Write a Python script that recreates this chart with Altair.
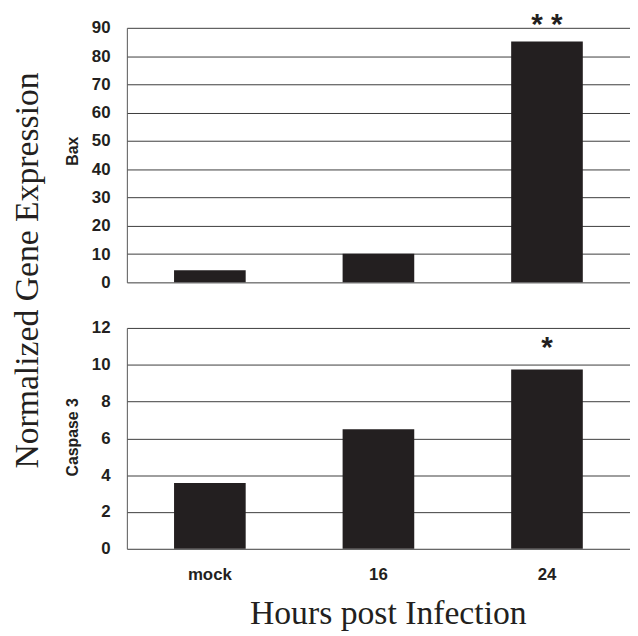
import altair as alt
import pandas as pd

hours = ["mock", "16", "24"]
bax = [4.3, 10.1, 85.2]
caspase3 = [3.57, 6.5, 9.74]
bax_sig = ["", "", "* *"]
casp_sig = ["", "", "*"]
bax_ticks = [0, 10, 20, 30, 40, 50, 60, 70, 80, 90]
casp_ticks = [0, 2, 4, 6, 8, 10, 12]
y_title = "Normalized Gene Expression"
x_title = "Hours post Infection"

INK = "#231f20"
GRID = "#3c3c3c"
SANS = "Liberation Sans"
SERIF = "Liberation Serif"

W = 508          # plot width
H = 526          # total plot height (both panels)
TOP_H = 257      # Bax panel height
BOT_Y0 = 303     # top of the Caspase 3 panel

df_bax = pd.DataFrame({"hours": hours, "bax": bax, "sig": bax_sig})
df_casp = pd.DataFrame({"hours": hours, "casp": caspase3, "sig": casp_sig})
df_title = pd.DataFrame({"t": [y_title]})

x_enc = alt.X(
    "hours:N", sort=hours,
    scale=alt.Scale(paddingInner=0.575, paddingOuter=0.28),
    axis=alt.Axis(title=x_title, ticks=False, domain=False, grid=False,
                  labelAngle=0, labelFont=SANS, labelFontWeight="bold",
                  labelFontSize=17, labelColor=INK, labelPadding=18,
                  titleFont=SERIF, titleFontSize=34, titleFontWeight="normal",
                  titleColor=INK, titleX=263.5, titleY=75,
                  titleAlign="center", titleBaseline="alphabetic"),
)


def yaxis(title, values, title_y):
    return alt.Axis(
        title=title, values=values, orient="left", grid=True, gridColor=GRID,
        gridWidth=1, ticks=False, domain=True, domainColor="#555555", domainWidth=1,
        labelFont=SANS, labelFontWeight="bold", labelFontSize=17, labelColor=INK,
        labelPadding=17,
        titleFont=SANS, titleFontWeight="bold", titleFontSize=16, titleColor=INK,
        titleAngle=270, titleX=-50, titleY=title_y, titleAlign="center",
        titleBaseline="alphabetic",
    )


y_top = alt.Y("bax:Q", scale=alt.Scale(domain=[0, 90], range=[TOP_H, 0], nice=False),
              axis=yaxis("Bax", bax_ticks, 124))
y_bot = alt.Y("casp:Q", scale=alt.Scale(domain=[0, 12], range=[H, BOT_Y0], nice=False),
              axis=yaxis("Caspase 3", casp_ticks, BOT_Y0 + 110))

bars_top = alt.Chart(df_bax).mark_bar(color=INK).encode(x=x_enc, y=y_top)
sig_top = alt.Chart(df_bax).mark_text(
    font=SANS, fontWeight="bold", fontSize=30, color=INK, baseline="alphabetic", dy=-7
).encode(x=x_enc, y=y_top, text="sig:N")

bars_bot = alt.Chart(df_casp).mark_bar(color=INK).encode(x=x_enc, y=y_bot)
sig_bot = alt.Chart(df_casp).mark_text(
    font=SANS, fontWeight="bold", fontSize=30, color=INK, baseline="alphabetic", dy=-13
).encode(x=x_enc, y=y_bot, text="sig:N")

big_title = alt.Chart(df_title).mark_text(
    font=SERIF, fontSize=34, color=INK, angle=270, align="center", baseline="alphabetic"
).encode(x=alt.value(-90), y=alt.value(245), text="t:N")

chart = alt.layer(
    alt.layer(bars_top, sig_top),
    alt.layer(bars_bot, sig_bot),
    big_title,
).resolve_scale(y="independent").resolve_axis(y="independent").properties(
    width=W, height=H,
    autosize=alt.AutoSizeParams(type="none"),
    padding={"left": 120, "top": 17, "right": 0, "bottom": 82},
).configure_view(strokeWidth=0)

chart.save("out.html", embed_options={"renderer": "svg", "actions": False})
